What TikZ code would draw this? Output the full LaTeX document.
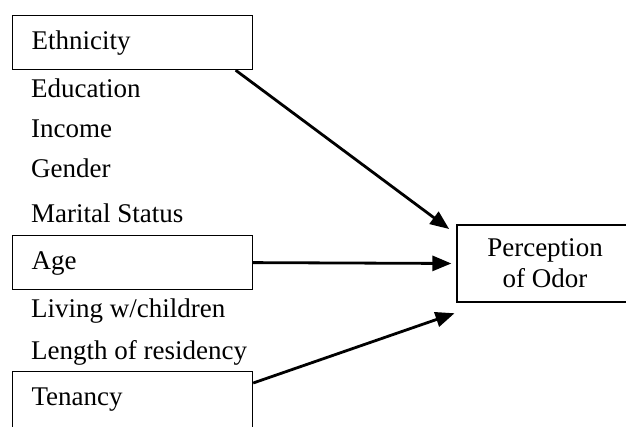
\documentclass[tikz,border=0pt]{standalone}
\usepackage{fontspec}
\setmainfont{Liberation Serif}
\usetikzlibrary{arrows.meta}

\begin{document}
\begin{tikzpicture}
[x=1pt, y=-1pt,
every node/.style={font=\fontsize{27}{31}\selectfont},
factor/.style={draw, line width=1.2pt, anchor=north west, text width=202pt, align=left, inner xsep=19pt, inner ysep=14.5pt, text height=19pt, text depth=6pt},
item/.style={anchor=base west, inner sep=0pt},
outcome/.style={draw, line width=1.2pt, minimum width=176pt, minimum height=77pt, align=center},
effect/.style={line width=2.8pt, -{Triangle[length=19pt, width=15pt]}}]
\path[use as bounding box] (0,0) rectangle (626,426);
\begin{scope}
\clip (0,0) rectangle (626,426);
\node[factor] (ethnicity) at (12,15) {Ethnicity};
\node[item] (education) at (31,97) {Education};
\node[item] (income) at (31,137) {Income};
\node[item] (gender) at (31,177) {Gender};
\node[item] (marital) at (31,222) {Marital Status};
\node[factor] (age) at (12,235) {Age};
\node[item] (children) at (31,317) {Living w/children};
\node[item] (residency) at (31,359) {Length of residency};
\node[factor, text depth=14pt] (tenancy) at (12,371) {Tenancy};
\node[outcome] (perception) at (545,263.5) {Perception\\of Odor};
\draw[effect, shorten >=9pt] (ethnicity.-15) -- ([yshift=-10pt]perception.north west);
\draw[effect, shorten >=5pt] (age.east) -- (perception.west);
\draw[effect, shorten >=2pt] ([yshift=-12pt]tenancy.north east) -- ([yshift=-10pt]perception.south west);
\end{scope}
\end{tikzpicture}
\end{document}
